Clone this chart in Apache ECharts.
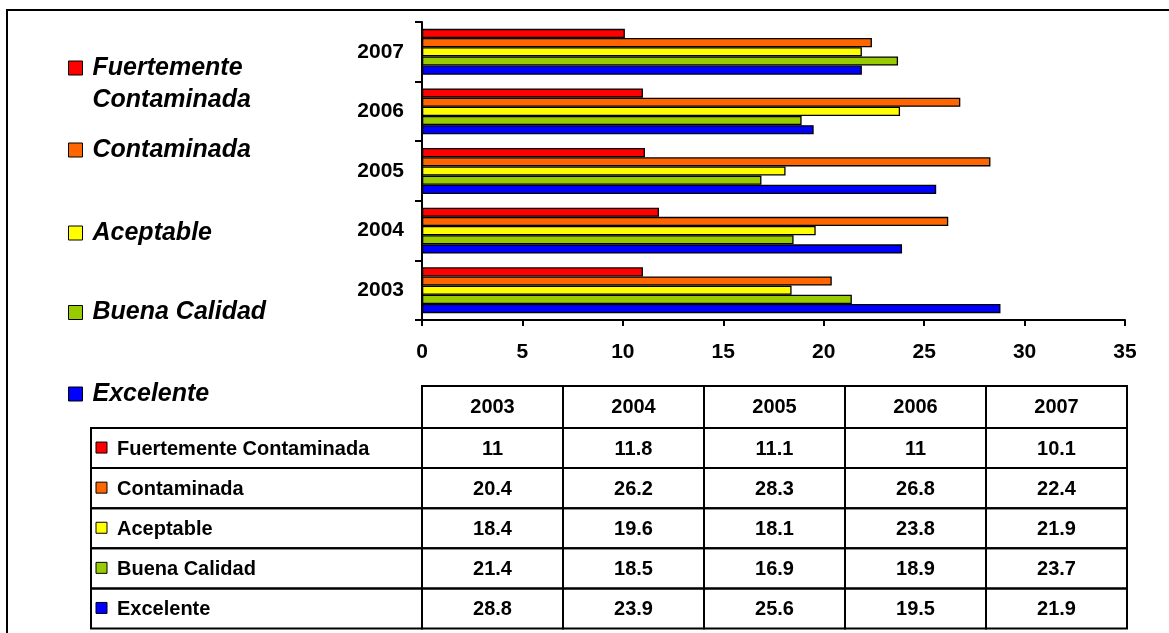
<!DOCTYPE html>
<html>
<head>
<meta charset="utf-8">
<script src="https://cdn.jsdelivr.net/npm/echarts@6/dist/echarts.min.js"></script>
<style>
  html, body { margin: 0; padding: 0; background: #fff; }
  #chart { width: 1169px; height: 633px; }
</style>
</head>
<body>
<div id="chart"></div>
<script>
// Años (categorías del eje vertical)
const years = ['2003', '2004', '2005', '2006', '2007'];

// Porcentaje de días por calidad del aire
const fuertemente = [11, 11.8, 11.1, 11, 10.1];
const contaminada = [20.4, 26.2, 28.3, 26.8, 22.4];
const aceptable   = [18.4, 19.6, 18.1, 23.8, 21.9];
const buena       = [21.4, 18.5, 16.9, 18.9, 23.7];
const excelente   = [28.8, 23.9, 25.6, 19.5, 21.9];

const seriesNames = ['Fuertemente Contaminada', 'Contaminada', 'Aceptable', 'Buena Calidad', 'Excelente'];
const seriesData  = [fuertemente, contaminada, aceptable, buena, excelente];
const colors      = ['#FF0000', '#FF6600', '#FFFF00', '#99CC00', '#0000FF'];

// Escala del eje de valores
const xMin = 0, xMax = 35, xStep = 5;

const FONT = "'Liberation Sans', Arial, Helvetica, sans-serif";

const chart = echarts.init(document.getElementById('chart'));

// Leyenda: un bloque por serie
const legendCenters = [68, 150, 233, 312.5, 394];
const legendBase = {
  orient: 'vertical',
  left: 68,
  padding: 0,
  itemWidth: 14,
  itemHeight: 14,
  icon: 'rect',
  selectedMode: false,
  itemStyle: { borderColor: '#000', borderWidth: 1 },
  textStyle: {
    fontFamily: FONT, fontWeight: 'bold', fontStyle: 'italic',
    fontSize: 25, color: '#000', lineHeight: 28, padding: [0, 0, 0, 5]
  }
};
const legends = seriesNames.map((name, i) => {
  if (i === 0) {
    // primera línea vacía para que el icono quede a la altura de «Fuertemente»
    return Object.assign({}, legendBase, {
      data: [name],
      top: legendCenters[i] - 48,
      formatter: () => '\u00a0\nFuertemente\nContaminada',
      textStyle: Object.assign({}, legendBase.textStyle, { lineHeight: 32 })
    });
  }
  return Object.assign({}, legendBase, { data: [name], top: legendCenters[i] - 14 });
});

// Tabla de datos bajo el gráfico
const tblLeft = 91;
const colEdges = [422, 563, 704, 845, 986, 1127];
const headTop = 386, headBottom = 428, rowH = 40.1;
const graphics = [];

// Marco exterior
graphics.push({
  type: 'rect', shape: { x: 7, y: 10, width: 1200, height: 700 },
  style: { fill: null, stroke: '#000', lineWidth: 2 }, silent: true
});

const cellStyle = { fill: null, stroke: '#000', lineWidth: 2 };
// Encabezado de años
years.forEach((y, j) => {
  const x0 = colEdges[j], x1 = colEdges[j + 1];
  graphics.push({ type: 'rect', shape: { x: x0, y: headTop, width: x1 - x0, height: headBottom - headTop }, style: cellStyle, silent: true });
  graphics.push({
    type: 'text', x: (x0 + x1) / 2, y: (headTop + headBottom) / 2,
    style: { text: y, fill: '#000', font: `bold 20px ${FONT}`, align: 'center', verticalAlign: 'middle' }, silent: true
  });
});
// Filas por categoría
seriesNames.forEach((name, i) => {
  const y0 = headBottom + i * rowH, y1 = y0 + rowH, cy = (y0 + y1) / 2;
  graphics.push({ type: 'rect', shape: { x: tblLeft, y: y0, width: colEdges[0] - tblLeft, height: rowH }, style: cellStyle, silent: true });
  graphics.push({ type: 'rect', shape: { x: 96, y: cy - 6, width: 11, height: 11 }, style: { fill: colors[i], stroke: '#000', lineWidth: 1 }, silent: true });
  graphics.push({
    type: 'text', x: 117, y: cy + 1,
    style: { text: name, fill: '#000', font: `bold 20px ${FONT}`, align: 'left', verticalAlign: 'middle' }, silent: true
  });
  seriesData[i].forEach((v, j) => {
    const x0 = colEdges[j], x1 = colEdges[j + 1];
    graphics.push({ type: 'rect', shape: { x: x0, y: y0, width: x1 - x0, height: rowH }, style: cellStyle, silent: true });
    graphics.push({
      type: 'text', x: (x0 + x1) / 2, y: cy + 1,
      style: { text: String(v), fill: '#000', font: `bold 20px ${FONT}`, align: 'center', verticalAlign: 'middle' }, silent: true
    });
  });
});

const option = {
  backgroundColor: '#fff',
  animation: false,
  textStyle: { fontFamily: FONT },
  legend: legends,
  grid: { left: 422, right: 44, top: 22, bottom: 313, containLabel: false },
  xAxis: {
    type: 'value', min: xMin, max: xMax, interval: xStep,
    axisLine: { show: true, lineStyle: { color: '#000', width: 2 } },
    axisTick: { show: true, length: 6, lineStyle: { color: '#000', width: 2 } },
    axisLabel: { color: '#000', fontFamily: FONT, fontWeight: 'bold', fontSize: 21, margin: 22 },
    splitLine: { show: false }
  },
  yAxis: {
    type: 'category', data: years,
    axisLine: { show: true, lineStyle: { color: '#000', width: 2 } },
    axisTick: { show: true, length: 7, lineStyle: { color: '#000', width: 2 } },
    axisLabel: { color: '#000', fontFamily: FONT, fontWeight: 'bold', fontSize: 21, margin: 18 }
  },
  series: seriesNames.map((name, i) => ({
    name, type: 'bar', data: seriesData[i],
    barGap: 0, barCategoryGap: '23%',
    itemStyle: { color: colors[i], borderColor: '#000', borderWidth: 1.3 }
  })),
  graphic: graphics
};

chart.setOption(option);
</script>
</body>
</html>
